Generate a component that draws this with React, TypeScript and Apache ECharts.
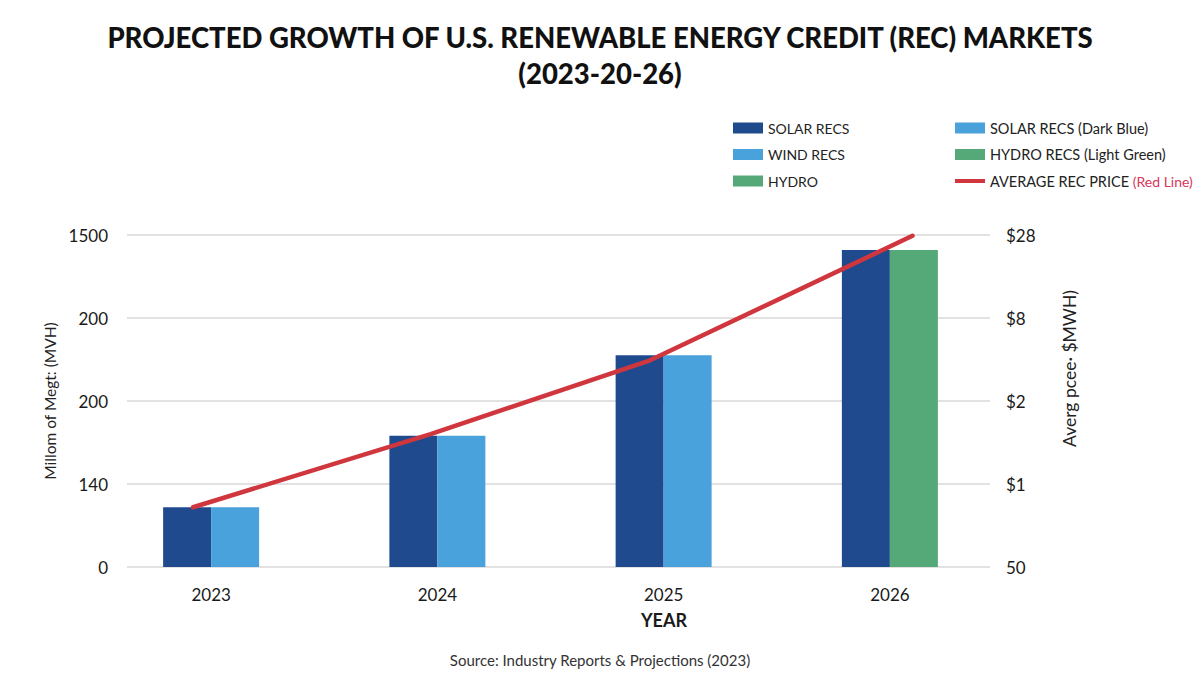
import React, { useEffect, useRef } from "react";
import * as echarts from "echarts";

// Categories and values (values are in gridline steps of the value axes)
const YEARS = ["2023", "2024", "2025", "2026"];
const SOLAR_RECS = [0.72, 1.58, 2.55, 3.82];
const WIND_RECS: (number | string)[] = [0.72, 1.58, 2.55, "-"];
const HYDRO: (number | string)[] = ["-", "-", "-", 3.82];
// Average REC price line: x in category units (0 = 2023), y in gridline steps
const PRICE_X = [-0.08, 0.97, 1.94, 3.1];
const PRICE_Y = [0.72, 1.6, 2.49, 3.99];
// Tick labels
const LEFT_TICKS = ["0", "140", "200", "200", "1500"];
const RIGHT_TICKS = ["50", "$1", "$2", "$8", "$28"];

const FONT = "Lato, 'Open Sans', sans-serif";
const C_DARK = "#1f4b8e";
const C_LIGHT = "#4aa2dc";
const C_GREEN = "#55a877";
const C_RED = "#d0363d";

export default function App() {
  const ref = useRef<HTMLDivElement>(null);

  useEffect(() => {
    if (!ref.current) return;
    const chart = echarts.init(ref.current, undefined, { renderer: "svg" });

    const legendText = {
      fontFamily: FONT,
      fontSize: 14,
      color: "#222",
      lineHeight: 16,
    };

    chart.setOption({
      animation: false,
      backgroundColor: "#ffffff",
      title: {
        text: "PROJECTED GROWTH OF U.S. RENEWABLE ENERGY CREDIT (REC) MARKETS\n(2023-20-26)",
        left: "center",
        top: 14,
        textStyle: {
          fontFamily: FONT,
          fontWeight: 900,
          fontSize: 27.5,
          lineHeight: 36,
          color: "#111",
        },
      },
      legend: [
        {
          orient: "vertical",
          left: 733,
          top: 120,
          padding: 0,
          itemWidth: 30,
          itemHeight: 11,
          itemGap: 10.5,
          icon: "rect",
          textStyle: legendText,
          data: ["SOLAR RECS", "WIND RECS", "HYDRO"],
        },
        {
          orient: "vertical",
          left: 955,
          top: 120,
          padding: 0,
          itemWidth: 30,
          itemHeight: 11,
          itemGap: 10.5,
          textStyle: {
            ...legendText,
            rich: {
              a: { color: "#222", fontFamily: FONT, fontSize: 14.5, lineHeight: 16 },
              r: { color: "#d8365a", fontFamily: FONT, fontSize: 14, lineHeight: 16 },
            },
          },
          formatter: (name: string) =>
            name === "AVERAGE REC PRICE (Red Line)"
              ? "{a|AVERAGE REC PRICE }{r|(Red Line)}"
              : `{a|${name}}`,
          data: [
            { name: "SOLAR RECS (Dark Blue)", icon: "rect" },
            { name: "HYDRO RECS (Light Green)", icon: "rect" },
            {
              name: "AVERAGE REC PRICE (Red Line)",
              icon: "path://M0,0H30V4H0Z",
              itemStyle: { color: C_RED },
            },
          ],
        },
      ],
      grid: [
        // axes, tick labels and gridlines
        { left: 127, right: 210, top: 235, bottom: 118 },
        // bars and price line
        { left: 98, right: 197, top: 235, bottom: 118 },
      ],
      xAxis: [
        {
          gridIndex: 0,
          type: "value",
          min: 0,
          max: 1,
          show: false,
        },
        {
          gridIndex: 1,
          type: "category",
          data: YEARS,
          axisLine: { show: false },
          axisTick: { show: false },
          axisLabel: {
            margin: 19,
            fontFamily: FONT,
            fontSize: 17,
            color: "#1a1a1a",
          },
        },
        {
          gridIndex: 1,
          type: "value",
          min: -0.5,
          max: 3.5,
          show: false,
        },
      ],
      yAxis: [
        {
          gridIndex: 0,
          type: "value",
          position: "left",
          min: 0,
          max: 4,
          interval: 1,
          axisLine: { show: false },
          axisTick: { show: false },
          splitLine: { lineStyle: { color: "#d9d9d9", width: 1.5 } },
          axisLabel: {
            margin: 19,
            fontFamily: FONT,
            fontSize: 17,
            color: "#1a1a1a",
            formatter: (v: number) => LEFT_TICKS[Math.round(v)],
          },
          name: "Millom of Megt: (MVH)",
          nameLocation: "middle",
          nameGap: 62,
          nameTextStyle: { fontFamily: FONT, fontSize: 15.5, color: "#222" },
        },
        {
          gridIndex: 0,
          type: "value",
          position: "right",
          min: 0,
          max: 4,
          interval: 1,
          axisLine: { show: false },
          axisTick: { show: false },
          splitLine: { show: false },
          axisLabel: {
            margin: 16,
            fontFamily: FONT,
            fontSize: 17,
            color: "#1a1a1a",
            formatter: (v: number) => RIGHT_TICKS[Math.round(v)],
          },
        },
        {
          gridIndex: 1,
          type: "value",
          min: 0,
          max: 4,
          show: false,
        },
      ],
      graphic: [
        {
          type: "text",
          x: 1060,
          y: 290,
          rotation: Math.PI / 2,
          style: {
            text: "Averg pcee· $MWH)",
            fontFamily: FONT,
            fontSize: 17.5,
            fill: "#222",
            align: "right",
            verticalAlign: "top",
          },
        },
        {
          type: "text",
          x: 664,
          y: 620,
          style: {
            text: "YEAR",
            fontFamily: FONT,
            fontSize: 18,
            fontWeight: "bold",
            fill: "#1a1a1a",
            align: "center",
            verticalAlign: "middle",
          },
        },
        {
          type: "text",
          x: 600,
          y: 660,
          style: {
            text: "Source: Industry Reports & Projections (2023)",
            fontFamily: FONT,
            fontSize: 15,
            fill: "#333",
            align: "center",
            verticalAlign: "middle",
          },
        },
      ],
      series: [
        {
          name: "SOLAR RECS",
          type: "bar",
          xAxisIndex: 1,
          yAxisIndex: 2,
          stack: "solar",
          barWidth: 48,
          barGap: "0%",
          itemStyle: { color: C_DARK },
          data: SOLAR_RECS,
        },
        {
          name: "WIND RECS",
          type: "bar",
          xAxisIndex: 1,
          yAxisIndex: 2,
          stack: "second",
          barWidth: 48,
          barGap: "0%",
          itemStyle: { color: C_LIGHT },
          data: WIND_RECS,
        },
        {
          name: "HYDRO",
          type: "bar",
          xAxisIndex: 1,
          yAxisIndex: 2,
          stack: "second",
          barWidth: 48,
          barGap: "0%",
          itemStyle: { color: C_GREEN },
          data: HYDRO,
        },
        {
          name: "SOLAR RECS (Dark Blue)",
          type: "bar",
          xAxisIndex: 1,
          yAxisIndex: 2,
          stack: "second",
          barWidth: 48,
          itemStyle: { color: C_LIGHT },
          data: [],
        },
        {
          name: "HYDRO RECS (Light Green)",
          type: "bar",
          xAxisIndex: 1,
          yAxisIndex: 2,
          stack: "second",
          barWidth: 48,
          itemStyle: { color: C_GREEN },
          data: [],
        },
        {
          name: "AVERAGE REC PRICE (Red Line)",
          type: "line",
          xAxisIndex: 2,
          yAxisIndex: 2,
          symbol: "none",
          z: 5,
          lineStyle: { color: C_RED, width: 4.5, cap: "round" },
          itemStyle: { color: C_RED },
          data: PRICE_X.map((x, i) => [x, PRICE_Y[i]]),
        },
      ],
    });

    return () => chart.dispose();
  }, []);

  return (
    <div
      ref={ref}
      style={{
        position: "fixed",
        left: 0,
        top: 0,
        width: 1200,
        height: 685,
      }}
    />
  );
}
